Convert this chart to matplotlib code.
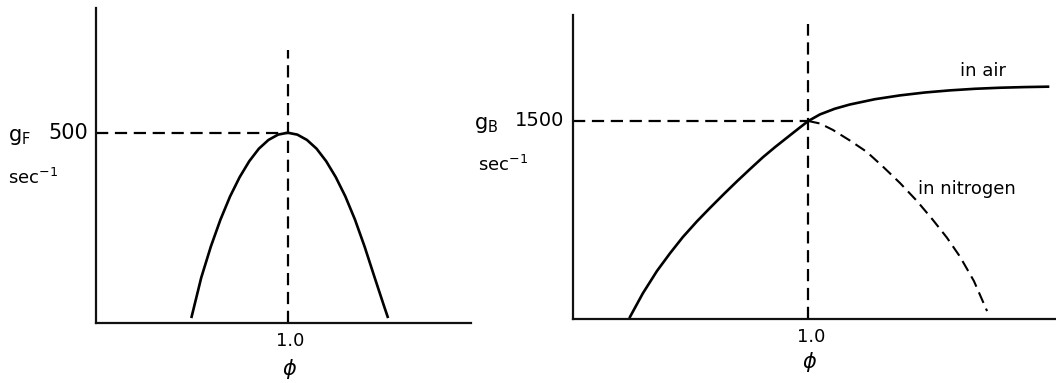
#!/usr/bin/env python3
"""Flashback (g_F) and blowoff (g_B) boundary velocity gradients against
equivalence ratio, drawn as two bare schematic panels."""
import matplotlib

matplotlib.use("Agg")
import matplotlib.pyplot as plt

W, H = 1056, 383

# flashback gradient, left panel
phi_f = [0.50, 0.55, 0.60, 0.65, 0.70, 0.75, 0.80, 0.85, 0.90, 0.95, 1.00,
         1.05, 1.10, 1.15, 1.20, 1.25, 1.30, 1.35, 1.40, 1.45, 1.50, 1.52]
g_f = [15, 118, 200, 271, 332, 383, 425, 458, 481, 495, 500,
       495, 481, 458, 425, 383, 332, 271, 200, 122, 45, 15]
G_F_REF = 500

# blowoff gradient, right panel
phi_air = [0.242, 0.297, 0.357, 0.412, 0.467, 0.527, 0.582, 0.642, 0.697,
           0.752, 0.807, 0.858, 0.909, 0.956, 1.000, 1.050, 1.113, 1.177,
           1.283, 1.390, 1.496, 1.602, 1.708, 1.815, 1.921, 2.019]
g_air = [15, 195, 364, 497, 621, 740, 841, 948, 1043,
         1135, 1225, 1301, 1373, 1439, 1500, 1550, 1593, 1625,
         1665, 1694, 1716, 1732, 1744, 1752, 1757, 1760]
phi_n2 = [1.000, 1.050, 1.105, 1.177, 1.248, 1.317, 1.390, 1.462, 1.530,
          1.589, 1.645, 1.704, 1.760]
g_n2 = [1500, 1481, 1432, 1352, 1267, 1155, 1030, 894, 750,
        617, 472, 288, 60]
G_B_REF = 1500
PHI_REF = 1.0

LW = 1.9
DASH = (5.5, 3.0)


def px(x, y):
    return x / W, 1 - y / H


def bare_axes(fig, x0, x1, ytop, ybot, xmax, ymax):
    ax = fig.add_axes([x0 / W, 1 - ybot / H, (x1 - x0) / W, (ybot - ytop) / H])
    ax.set_xlim(0, xmax)
    ax.set_ylim(0, ymax)
    for s in ("top", "right"):
        ax.spines[s].set_visible(False)
    for s in ("left", "bottom"):
        ax.spines[s].set_linewidth(1.6)
        ax.spines[s].set_color("#111111")
    ax.set_xticks([])
    ax.set_yticks([])
    ax.patch.set_alpha(0)
    return ax


fig = plt.figure(figsize=(W / 100, H / 100), dpi=100)

# left panel
axl = bare_axes(fig, 95.5, 470.7, 8, 322.5, 1.952, 828.6)
axl.plot(phi_f, g_f, color="black", lw=LW, solid_joinstyle="round")
axl.plot([0, PHI_REF], [G_F_REF, G_F_REF], color="black", lw=1.6,
         dashes=DASH)
axl.plot([PHI_REF, PHI_REF], [0, 718], color="black", lw=1.6, dashes=DASH)
axl.annotate(f"{G_F_REF}", (0, G_F_REF), xytext=(-7, 0),
             textcoords="offset pixels", ha="right", va="center", fontsize=15)
axl.annotate(f"{PHI_REF:.1f}", (PHI_REF, 0), xytext=(2, -9),
             textcoords="offset pixels", ha="center", va="top", fontsize=13)
fig.text(*px(8, 141), r"$\mathregular{g_F}$", fontsize=15, va="baseline")
fig.text(*px(8, 184), r"sec$^{\mathregular{-1}}$", fontsize=13, va="baseline")
fig.text(*px(290, 369), r"$\phi$", fontsize=15, ha="center", va="center")

# right panel
axr = bare_axes(fig, 573, 1056, 15, 319, 2.053, 2303)
axr.plot(phi_air, g_air, color="black", lw=LW, solid_joinstyle="round")
axr.plot(phi_n2, g_n2, color="black", lw=1.5, dashes=DASH)
axr.plot([0, PHI_REF], [G_B_REF, G_B_REF], color="black", lw=1.6,
         dashes=DASH)
axr.plot([PHI_REF, PHI_REF], [0, 2235], color="black", lw=1.6, dashes=DASH)
axr.annotate(f"{G_B_REF}", (0, G_B_REF), xytext=(-9, 0),
             textcoords="offset pixels", ha="right", va="center", fontsize=14)
axr.annotate(f"{PHI_REF:.1f}", (PHI_REF, 0), xytext=(3, -9),
             textcoords="offset pixels", ha="center", va="top", fontsize=13)
fig.text(*px(474, 129), r"$\mathregular{g_B}$", fontsize=15, va="baseline")
fig.text(*px(478, 171), r"sec$^{\mathregular{-1}}$", fontsize=13,
         va="baseline")
fig.text(*px(810, 362), r"$\phi$", fontsize=15, ha="center", va="center")
fig.text(*px(960, 76), "in air", fontsize=13, va="baseline")
fig.text(*px(918, 194), "in nitrogen", fontsize=13, va="baseline")

fig.savefig("out.png", dpi=100)
